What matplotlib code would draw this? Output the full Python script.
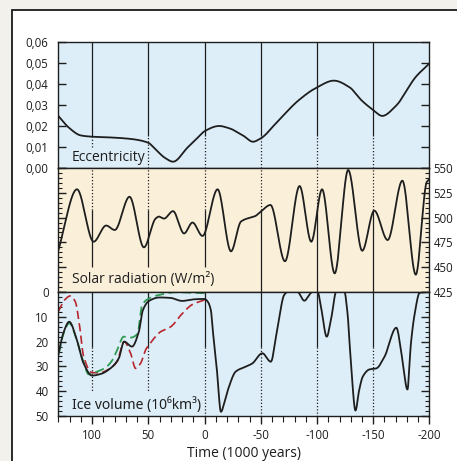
import numpy as np
import matplotlib
matplotlib.use("Agg")
import matplotlib.pyplot as plt
from matplotlib.patches import Rectangle
from matplotlib.ticker import MultipleLocator, FuncFormatter, FixedLocator

plt.rcParams['font.family'] = ['Open Sans', 'Noto Sans', 'DejaVu Sans']

# ---------------- data ----------------
ecc_t = [130, 120, 110, 100, 82, 65, 50, 43.5, 34.6, 28, 15, 5, 0, -13, -22, -35, -43, -50,
         -65, -84, -100, -115, -129, -140, -150, -158, -170, -188, -200]
ecc_v = [0.0248, 0.0189, 0.0155, 0.0149, 0.0145, 0.0138, 0.0120, 0.0088, 0.0046, 0.0030,
         0.0098, 0.0150, 0.0175, 0.0200, 0.0189, 0.0152, 0.0125, 0.0141,
         0.0222, 0.0324, 0.0384, 0.0416, 0.0384, 0.0320, 0.0276, 0.0248, 0.0295, 0.0435, 0.0498]

sol_t = [130, 113.4, 98.6, 87.5, 79.8, 66.7, 53.9, 43.5, 40.5, 36, 28, 18.2, 10.7, 1.8,
         -11.6, -23.5, -32.4, -41.3, -45, -50, -58.6, -71.5, -84.5, -94.9, -104.5, -115.7,
         -127.7, -140.2, -150.9, -162.8, -175.9, -187.8, -197.6, -200]
sol_v = [467, 528.5, 475.7, 492, 487.5, 521, 470, 499, 501, 499, 506.5, 484, 495, 481.5,
         528.5, 466, 496, 500.3, 501.5, 506, 512.7, 456, 531.8, 475.7, 528.5, 443.8,
         548, 466.6, 507, 477.4, 537.2, 442.5, 536, 539]

ice_t = [130, 125.5, 120.3, 113.4, 107.5, 100, 92, 83.7, 76.2, 71.5, 64.5, 58.4, 54.8, 49.4,
         40, 30, 20, 8, 0, -3, -5.6, -8, -11, -14.6, -18, -21.7, -27.7, -36.6, -42.5, -51.4,
         -58.9, -64.8, -70.8, -73.8, -82.7, -88.7, -96, -100.5, -104, -108.6, -113, -117,
         -124.4, -127, -130.5, -134.2, -137.5, -140.7, -146.7, -152.7, -160, -170.5, -175.5,
         -180.4, -183.5, -186.9, -191.3, -200]
ice_v = [25.4, 16.5, 12, 19.5, 28.8, 33.7, 33, 30.8, 26.7, 20, 22, 16, 7.3, 3.6,
         2.2, 2.4, 3.6, 2.9, 2.8, 4, 7.3, 18.6, 31.5, 48.3, 44, 38.2, 32.1, 30.1, 28.8, 24.7,
         28.1, 14.7, 1.2, 0, 0, 3.5, 0, 0, 7.3, 18, 9.7, 0,
         0, 8, 31, 47.8, 39.5, 34.1, 31.2, 30.8, 26.1, 14.4, 26,
         39.3, 20.7, 8.6, 0.3, 0]

green_t = [130, 125.5, 120.3, 113.4, 107.5, 103, 95, 88, 82, 77.7, 71.8, 65.8, 59.8, 55.4,
           49.4, 37.5, 25.6, 10, 0]
green_v = [26, 17, 12.6, 19.5, 28.5, 33.2, 32, 30.5, 27.5, 23.4, 18, 18.4, 17, 5.2,
           2.6, 0.9, 0.1, 0.3, 0.5]

red_t = [130, 124, 119.4, 114.9, 111, 107.5, 100, 93, 86.6, 77.7, 71.5, 65.5, 61.3, 56.9,
         52, 49.5, 39, 30, 19.6, 10.7, 0]
red_v = [7.9, 3, 1.6, 3.9, 14, 26, 32.5, 32.6, 31.5, 28.1, 20, 25, 30.8, 28.8,
         23, 21.4, 16, 14, 8.6, 5, 3.2]

time_ticks = [100, 50, 0, -50, -100, -150, -200]
grid_t = [100, 50, 0, -50, -100, -150]

ecc_ticks = [0.00, 0.01, 0.02, 0.03, 0.04, 0.05, 0.06]
sol_ticks = [425, 450, 475, 500, 525, 550]
ice_ticks = [0, 10, 20, 30, 40, 50]


# ---------------- helpers ----------------
def pchip_curve(x, y, n=1500):
    x = np.asarray(x, float)
    y = np.asarray(y, float)
    order = np.argsort(x)
    x, y = x[order], y[order]
    h = np.diff(x)
    d = np.diff(y) / h
    m = np.zeros_like(y)
    for k in range(1, len(x) - 1):
        if d[k - 1] * d[k] <= 0:
            m[k] = 0.0
        else:
            w1 = 2 * h[k] + h[k - 1]
            w2 = h[k] + 2 * h[k - 1]
            m[k] = (w1 + w2) / (w1 / d[k - 1] + w2 / d[k])
    m[0] = d[0]
    m[-1] = d[-1]
    xn = np.linspace(x[0], x[-1], n)
    idx = np.clip(np.searchsorted(x, xn) - 1, 0, len(x) - 2)
    hh = h[idx]
    s = (xn - x[idx]) / hh
    h00 = 2 * s**3 - 3 * s**2 + 1
    h10 = s**3 - 2 * s**2 + s
    h01 = -2 * s**3 + 3 * s**2
    h11 = s**3 - s**2
    yn = h00 * y[idx] + h10 * hh * m[idx] + h01 * y[idx + 1] + h11 * hh * m[idx + 1]
    return xn, yn


LINE = '#1e1e1e'
TXT = '#1e1e1e'
BLUE = '#ddeef8'
BEIGE = '#faf0da'
DOT = (0, (1, 1.6))

fig = plt.figure(figsize=(4.57, 4.61), dpi=100)
fig.patch.set_facecolor('#f2f1ec')
fig.patches.append(Rectangle((12 / 457, -0.2), 1.2, 1 - 10 / 461 + 0.2,
                             transform=fig.transFigure, facecolor='white',
                             edgecolor='#1a1a1a', lw=1.3, zorder=-10))

L, W = 0.1276, 0.8122
ax1 = fig.add_axes([L, 0.6356, W, 0.2733])
ax2 = fig.add_axes([L, 0.3666, W, 0.2690])
ax3 = fig.add_axes([L, 0.0976, W, 0.2690])

for ax, bg in ((ax1, BLUE), (ax2, BEIGE), (ax3, BLUE)):
    ax.set_facecolor(bg)
    ax.set_xlim(130, -200)
    for sp in ax.spines.values():
        sp.set_color(LINE)
        sp.set_linewidth(1.0)

# ---------- eccentricity ----------
ax1.set_ylim(0, 0.06)
for t in grid_t:
    low = 0.010 if t > 50 else 0
    ax1.vlines(t, 0.015, 0.06, color=LINE, lw=0.9)
    ax1.vlines(t, low, 0.015, color=LINE, lw=0.9, linestyles=[DOT])
xs, ys = pchip_curve(ecc_t, ecc_v)
ax1.plot(xs, ys, color=LINE, lw=1.3)
ax1.yaxis.set_major_locator(FixedLocator(ecc_ticks))
ax1.yaxis.set_major_formatter(FuncFormatter(lambda v, p: f"{v:.2f}".replace('.', ',')))
ax1.tick_params(axis='y', direction='in', length=6, width=1, left=True, right=True,
                labelsize=8.3, colors=LINE, labelcolor=TXT, pad=7)
ax1.tick_params(axis='x', bottom=False, labelbottom=False)
ax1.text(0.037, 0.085, 'Eccentricity', transform=ax1.transAxes, fontsize=10,
         color=TXT, va='center', ha='left')

# ---------- solar radiation ----------
ax2.set_ylim(425, 550)
for t in grid_t:
    low = 425 if t <= -50 else 450
    ax2.vlines(t, low, 508, color=LINE, lw=0.9)
    ax2.vlines(t, 508, 550, color=LINE, lw=0.9, linestyles=[DOT])
xs, ys = pchip_curve(sol_t, sol_v)
ax2.plot(xs, ys, color=LINE, lw=1.3)
ax2.yaxis.set_major_locator(FixedLocator(sol_ticks))
ax2.yaxis.set_minor_locator(MultipleLocator(5))
ax2.yaxis.tick_right()
ax2.tick_params(axis='y', which='both', direction='in', left=True, right=True,
                labelleft=False, labelright=True, colors=LINE, labelcolor=TXT,
                labelsize=8.3, pad=3)
ax2.tick_params(axis='y', which='major', length=6, width=1)
ax2.tick_params(axis='y', which='minor', length=3, width=0.8)
ax2.tick_params(axis='x', bottom=False, labelbottom=False)
ax2.text(0.037, 0.10, 'Solar radiation (W/m²)', transform=ax2.transAxes, fontsize=10,
         color=TXT, va='center', ha='left')

# ---------- ice volume ----------
ax3.set_ylim(50, 0)
for t in grid_t:
    low = 40 if t > 0 else 50
    ax3.vlines(t, 0, 22, color=LINE, lw=0.9)
    ax3.vlines(t, 22, low, color=LINE, lw=0.9, linestyles=[DOT])
xs, ys = pchip_curve(red_t, red_v, 600)
ax3.plot(xs, ys, color='#b8262d', lw=1.2, dashes=(5, 2.5))
xs, ys = pchip_curve(green_t, green_v, 600)
ax3.plot(xs, ys, color='#2f9a52', lw=1.3, dashes=(5, 2.5))
xs, ys = pchip_curve(ice_t, ice_v, 2500)
ax3.plot(xs, ys, color=LINE, lw=1.3)
ax3.yaxis.set_major_locator(FixedLocator(ice_ticks))
ax3.yaxis.set_minor_locator(MultipleLocator(2))
ax3.tick_params(axis='y', which='both', direction='in', left=True, right=True,
                colors=LINE, labelcolor=TXT, labelsize=8.3, pad=7)
ax3.tick_params(axis='y', which='major', length=6, width=1)
ax3.tick_params(axis='y', which='minor', length=3, width=0.8)
ax3.xaxis.set_major_locator(FixedLocator(time_ticks))
ax3.xaxis.set_minor_locator(MultipleLocator(10))
ax3.xaxis.set_major_formatter(FuncFormatter(lambda v, p: f"{int(v)}"))
ax3.tick_params(axis='x', which='both', direction='out', colors=LINE, labelcolor=TXT,
                labelsize=8.3, pad=3)
ax3.tick_params(axis='x', which='major', length=6, width=1)
ax3.tick_params(axis='x', which='minor', length=4, width=0.8)
ax3.set_xlabel('Time (1000 years)', fontsize=10, color=TXT, labelpad=3)
ax3.text(0.037, 0.09, 'Ice volume (10⁶km³)', transform=ax3.transAxes, fontsize=10,
         color=TXT, va='center', ha='left', family=['Noto Sans', 'DejaVu Sans'])

fig.savefig('out.png', dpi=100, facecolor=fig.get_facecolor())
